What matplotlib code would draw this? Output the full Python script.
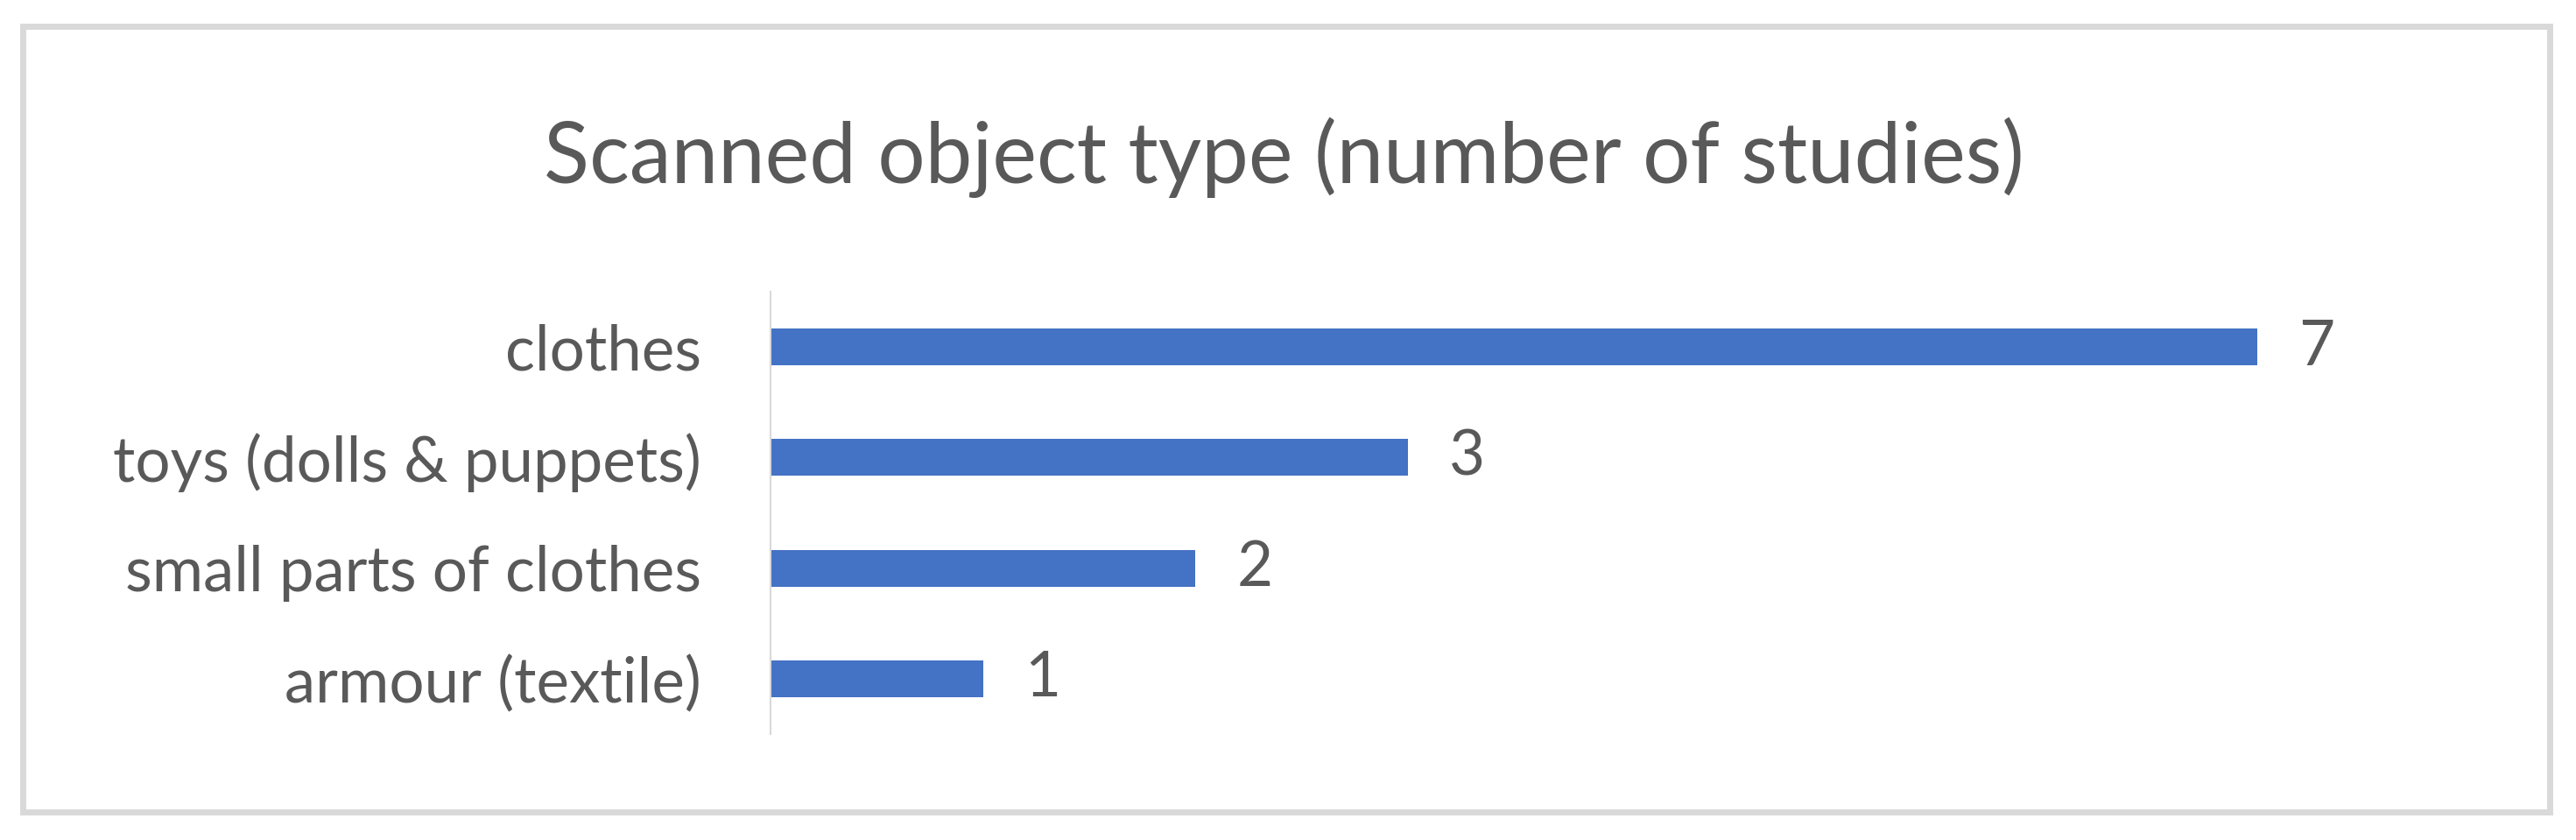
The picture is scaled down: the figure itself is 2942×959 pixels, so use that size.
import matplotlib
matplotlib.use("Agg")
import matplotlib.pyplot as plt
from matplotlib.patches import Rectangle

categories = ["clothes", "toys (dolls & puppets)", "small parts of clothes", "armour (textile)"]
values = [7, 3, 2, 1]
title = "Scanned object type (number of studies)"

plt.rcParams['font.family'] = ['Lato', 'DejaVu Sans']
text_color = "#595959"
bar_color = "#4472C4"
grid_gray = "#D9D9D9"

W, H = 2942, 959
fig = plt.figure(figsize=(W / 100, H / 100), dpi=100)
fig.patch.set_facecolor("white")

# chart border
fig.patches.append(Rectangle((26 / W, 1 - 927 / H), (2912 - 26) / W, (927 - 30) / H,
                             transform=fig.transFigure, fill=False,
                             edgecolor=grid_gray, linewidth=5.0))

fig.text(0.4985, 1 - 180 / H, title, ha="center", va="center",
         fontsize=69, color=text_color)

ax = fig.add_axes([880 / W, 1 - 838 / H, 1940 / W, 505 / H])
y = list(range(len(categories)))
ax.barh(y, values, height=0.333, color=bar_color)
ax.set_ylim(len(categories) - 0.5, -0.5)
ax.set_xlim(0, 8)
ax.set_yticks(y)
ax.set_yticklabels(categories, fontsize=51, color=text_color)
ax.tick_params(axis="y", length=0, pad=57)
ax.set_xticks([])
for s in ["top", "right", "bottom"]:
    ax.spines[s].set_visible(False)
ax.spines["left"].set_color(grid_gray)
ax.spines["left"].set_linewidth(1.5)

for yi, v in zip(y, values):
    ax.annotate(str(v), xy=(v, yi), xytext=(34, 0), textcoords="offset points",
                ha="left", va="center", fontsize=51, color=text_color)

fig.savefig("out.png", dpi=100, facecolor="white")
